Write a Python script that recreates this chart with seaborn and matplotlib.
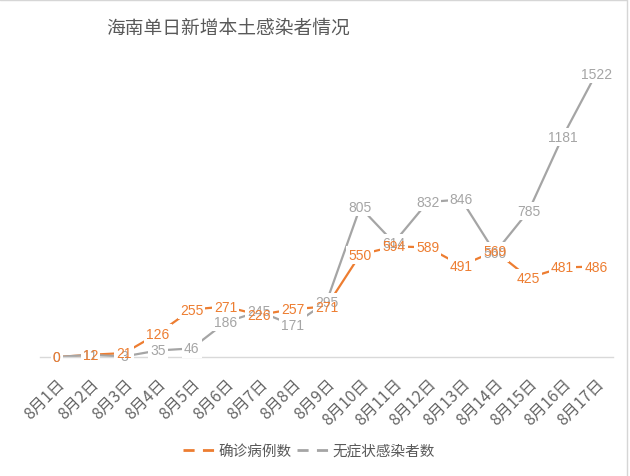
import matplotlib
matplotlib.use("Agg")
import matplotlib.pyplot as plt
import pandas as pd
import seaborn as sns
from matplotlib.lines import Line2D

dates = ["8月1日", "8月2日", "8月3日", "8月4日", "8月5日", "8月6日", "8月7日", "8月8日",
         "8月9日", "8月10日", "8月11日", "8月12日", "8月13日", "8月14日", "8月15日",
         "8月16日", "8月17日"]
confirmed = [0, 12, 21, 126, 255, 271, 226, 257, 271, 550, 594, 589, 491, 569, 425, 481, 486]
asymptomatic = [0, 11, 3, 35, 46, 186, 245, 171, 295, 805, 614, 832, 846, 560, 785, 1181, 1522]
series_names = ["确诊病例数", "无症状感染者数"]
colors = ["#ED7D31", "#A5A5A5"]
title = "海南单日新增本土感染者情况"

sns.set_theme(style="white")
plt.rcParams["font.family"] = ["Noto Sans CJK SC", "DejaVu Sans"]

rows = []
for name, vals in zip(series_names, [confirmed, asymptomatic]):
    for i, v in enumerate(vals):
        rows.append({"idx": i, "date": dates[i], "value": v, "series": name})
df = pd.DataFrame(rows)

fig = plt.figure(figsize=(6.3, 4.77), dpi=100)
ax = fig.add_axes([0.0635, 0.2495, 0.9095, 0.6245])

sns.lineplot(data=df, x="idx", y="value", hue="series", hue_order=series_names,
             palette=colors, linewidth=1.6, legend=False, ax=ax, zorder=2, sort=False)

ax.set_xlim(-0.5, len(dates) - 0.5)
ax.set_ylim(0, 1600)
ax.set_xlabel("")
ax.set_ylabel("")
ax.set_yticks([])
for s in ["top", "right", "left"]:
    ax.spines[s].set_visible(False)
ax.spines["bottom"].set_color("#d9d9d9")
ax.spines["bottom"].set_linewidth(1.0)

ax.set_xticks(range(len(dates)))
ax.set_xticklabels(dates, rotation=45, ha="right", va="top", rotation_mode="anchor",
                   fontsize=11.5, color="#666666", fontweight="light")
ax.tick_params(axis="x", which="major", length=0, pad=13)
ax.set_xticks([i - 0.5 for i in range(len(dates) + 1)], minor=True)
ax.tick_params(axis="x", which="minor", length=5, color="#d9d9d9", width=1, direction="out")

label_font = ["Liberation Sans", "DejaVu Sans"]
# white boxes first, then texts on top
for vals in [asymptomatic, confirmed]:
    for i, v in enumerate(vals):
        ax.text(i, v, str(v), ha="center", va="center", fontsize=10, family=label_font,
                color="white", zorder=3, clip_on=False,
                bbox=dict(boxstyle="square,pad=0.15", fc="white", ec="none"))
for vals, c in zip([asymptomatic, confirmed], [colors[1], colors[0]]):
    for i, v in enumerate(vals):
        ax.text(i, v, str(v), ha="center", va="center", fontsize=10, family=label_font,
                color=c, zorder=4, clip_on=False)

handles = [Line2D([0], [0], color=c, lw=2, linestyle=(0, (4, 3))) for c in colors]
fig.legend(handles, series_names, loc="center", bbox_to_anchor=(0.49, 0.052), ncol=2,
           frameon=False, fontsize=10.5, labelcolor="#595959", handlelength=2.2,
           handletextpad=0.2, columnspacing=0.4, prop={"weight": "light", "size": 10.5})

fig.text(0.362, 0.941, title, ha="center", va="center", fontsize=13.5, color="#595959",
         fontweight="light")

fig.add_artist(Line2D([0, 0.995], [0.997, 0.997], transform=fig.transFigure, color="#d6d6d6", lw=1))
fig.add_artist(Line2D([0.995, 0.995], [0, 0.997], transform=fig.transFigure, color="#d6d6d6", lw=1))

fig.savefig("out.png", dpi=100, facecolor="white")
